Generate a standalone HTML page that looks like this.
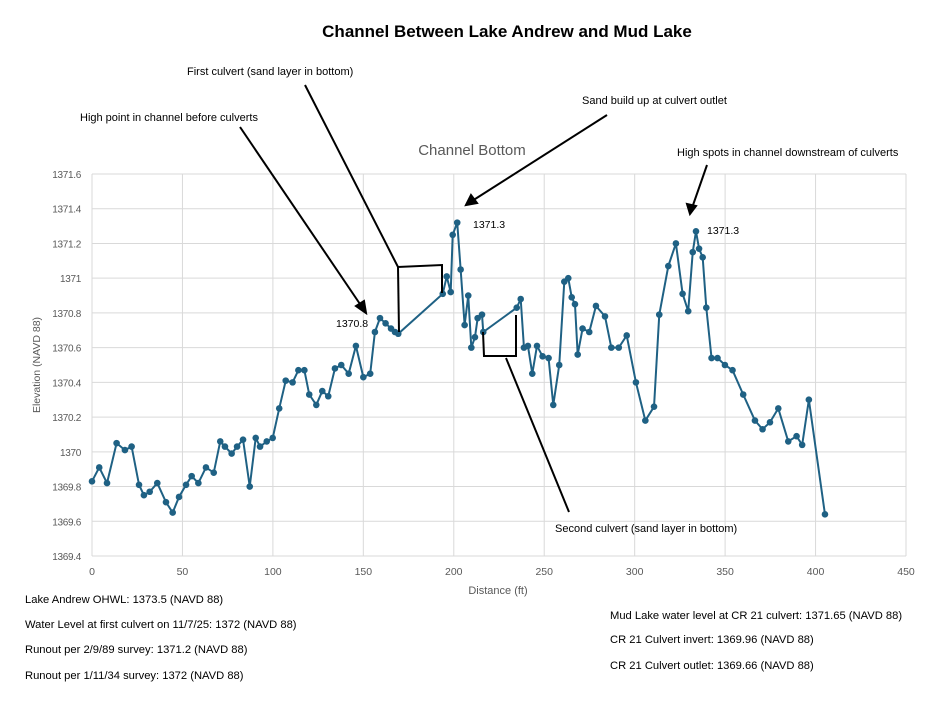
<!DOCTYPE html>
<html><head><meta charset="utf-8"><style>
body{margin:0;background:#fff;width:937px;height:703px;overflow:hidden;font-family:"Liberation Sans",sans-serif;}
.note{position:absolute;font-size:11.2px;color:#000;white-space:nowrap;}
</style></head><body>
<svg width="937" height="703" style="position:absolute;left:0;top:0" xmlns="http://www.w3.org/2000/svg" font-family="Liberation Sans, sans-serif">
<text x="507" y="37" text-anchor="middle" font-size="17" font-weight="bold">Channel Between Lake Andrew and Mud Lake</text>
<text x="472" y="155" text-anchor="middle" font-size="15" fill="#595959">Channel Bottom</text>
<g id="grid"></g><g id="axes"></g><g id="series"></g>
<text x="498" y="594" text-anchor="middle" font-size="11" fill="#595959">Distance (ft)</text>
<text transform="translate(40,365) rotate(-90)" text-anchor="middle" font-size="10.5" fill="#595959">Elevation (NAVD 88)</text>
<text x="336" y="327" font-size="10.5">1370.8</text>
<text x="473" y="228" font-size="10.5">1371.3</text>
<text x="707" y="234" font-size="10.5">1371.3</text>
<g stroke="#000" stroke-width="2" fill="none">
<line x1="240" y1="127" x2="362" y2="307"/>
<polygon points="366,313 356,306 364,301" fill="#000"/>
<polyline points="305,85 398,267 442,265 442,293"/>
<line x1="398" y1="267" x2="399" y2="332"/>
<line x1="607" y1="115" x2="472" y2="201"/>
<polygon points="466,205 471,195 477,203" fill="#000"/>
<line x1="707" y1="165" x2="692" y2="208"/>
<polygon points="690,214 687,204 696,206" fill="#000"/>
<polyline points="483,332 484,356 516,356 516,315"/>
<line x1="506" y1="358" x2="569" y2="512"/>
</g>
<text x="80" y="121" font-size="11">High point in channel before culverts</text>
<text x="187" y="75" font-size="11">First culvert (sand layer in bottom)</text>
<text x="582" y="104" font-size="11">Sand build up at culvert outlet</text>
<text x="677" y="156" font-size="11">High spots in channel downstream of culverts</text>
<text x="555" y="532" font-size="11">Second culvert (sand layer in bottom)</text>
</svg>
<div class="note" style="left:25px;top:594px">Lake Andrew OHWL: 1373.5 (NAVD 88)</div>
<div class="note" style="left:25px;top:619px">Water Level at first culvert on 11/7/25: 1372 (NAVD 88)</div>
<div class="note" style="left:25px;top:644px">Runout per 2/9/89 survey: 1371.2 (NAVD 88)</div>
<div class="note" style="left:25px;top:670px">Runout per 1/11/34 survey: 1372 (NAVD 88)</div>
<div class="note" style="left:610px;top:610px">Mud Lake water level at CR 21 culvert: 1371.65 (NAVD 88)</div>
<div class="note" style="left:610px;top:634px">CR 21 Culvert invert: 1369.96 (NAVD 88)</div>
<div class="note" style="left:610px;top:660px">CR 21 Culvert outlet: 1369.66 (NAVD 88)</div>
<script>
const distances=[0,4,8.3,13.6,18.2,21.9,26,28.7,31.9,36.1,40.9,44.6,48.1,52,55.1,58.8,63,67.3,70.9,73.5,77.2,80.2,83.5,87.2,90.5,92.9,96.6,99.9,103.5,107.1,110.9,114.1,117.4,120.1,124,127.3,130.6,134.3,137.8,141.9,145.9,150,153.8,156.4,159.2,162.3,165.3,167.5,169.3,193.9,196.1,198.3,199.4,201.9,203.8,206,208,209.7,211.7,213.2,215.6,216.3,234.8,237,238.8,241,243.4,246,249.1,252.4,255,258.3,261.1,263.3,265.2,267,268.5,271.2,274.9,278.6,283.6,287.1,291.2,295.6,300.7,305.9,310.7,313.6,318.6,322.8,326.5,329.6,332.1,333.9,335.6,337.6,339.6,342.5,345.8,349.9,354.1,360,366.5,370.7,374.8,379.4,384.9,389.5,392.6,396.3,405.2];
const elevations=[1369.83,1369.91,1369.82,1370.05,1370.01,1370.03,1369.81,1369.75,1369.77,1369.82,1369.71,1369.65,1369.74,1369.81,1369.86,1369.82,1369.91,1369.88,1370.06,1370.03,1369.99,1370.03,1370.07,1369.8,1370.08,1370.03,1370.06,1370.08,1370.25,1370.41,1370.4,1370.47,1370.47,1370.33,1370.27,1370.35,1370.32,1370.48,1370.5,1370.45,1370.61,1370.43,1370.45,1370.69,1370.77,1370.74,1370.71,1370.69,1370.68,1370.91,1371.01,1370.92,1371.25,1371.32,1371.05,1370.73,1370.9,1370.6,1370.66,1370.77,1370.79,1370.69,1370.83,1370.88,1370.6,1370.61,1370.45,1370.61,1370.55,1370.54,1370.27,1370.5,1370.98,1371,1370.89,1370.85,1370.56,1370.71,1370.69,1370.84,1370.78,1370.6,1370.6,1370.67,1370.4,1370.18,1370.26,1370.79,1371.07,1371.2,1370.91,1370.81,1371.15,1371.27,1371.17,1371.12,1370.83,1370.54,1370.54,1370.5,1370.47,1370.33,1370.18,1370.13,1370.17,1370.25,1370.06,1370.09,1370.04,1370.3,1369.64];
const xTicks=[0,50,100,150,200,250,300,350,400,450];
const yTicks=[1369.4,1369.6,1369.8,1370,1370.2,1370.4,1370.6,1370.8,1371,1371.2,1371.4,1371.6];
const yTickLabels=["1369.4","1369.6","1369.8","1370","1370.2","1370.4","1370.6","1370.8","1371","1371.2","1371.4","1371.6"];
const NS="http://www.w3.org/2000/svg";
const X0=92,X1=906,Y0=556,Y1=174;
const xs=v=>X0+(v-0)/(450-0)*(X1-X0);
const ys=v=>Y0-(v-1369.4)/(1371.6-1369.4)*(Y0-Y1);
function mk(tag,at,parent){const e=document.createElementNS(NS,tag);for(const k in at)e.setAttribute(k,at[k]);parent.appendChild(e);return e;}
const grid=document.getElementById('grid'),axes=document.getElementById('axes'),ser=document.getElementById('series');
yTicks.forEach((t,i)=>{
 const l=mk('line',{x1:X0,x2:X1,y1:ys(t),y2:ys(t),stroke:'#d9d9d9','stroke-width':1},grid);
 
 
 const tx=mk('text',{x:81,y:ys(t)+4,'text-anchor':'end','font-size':10,'letter-spacing':'-0.3',fill:'#595959'},axes);
 tx.textContent=yTickLabels[i];
 
 
});
xTicks.forEach(t=>{
 const l=mk('line',{x1:xs(t),x2:xs(t),y1:Y1,y2:Y0,stroke:'#d9d9d9','stroke-width':1},grid);
 
 
 const tx=mk('text',{x:xs(t),y:575,'text-anchor':'middle','font-size':10.5,fill:'#595959'},axes);
 tx.textContent=String(t);
 
 
});
const pts=distances.map((d,i)=>xs(d)+','+ys(elevations[i])).join(' ');
const pl=mk('polyline',{points:pts,fill:'none',stroke:'#1f6184','stroke-width':2},ser);


distances.forEach((d,i)=>{
 const c=mk('circle',{cx:xs(d),cy:ys(elevations[i]),r:3.3,fill:'#1f6184'},ser);
 
 
});
</script>
</body></html>
